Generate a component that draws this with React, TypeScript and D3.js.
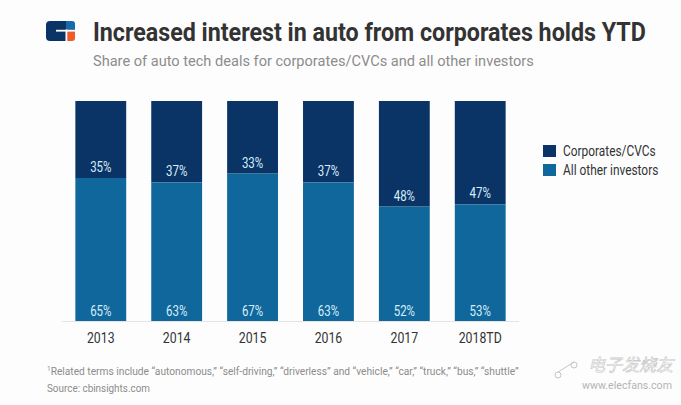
import React, { useLayoutEffect, useRef, useState } from "react";
import * as d3 from "d3";

const years = ["2013", "2014", "2015", "2016", "2017", "2018TD"];
const corporates = [35, 37, 33, 37, 48, 47];
const others = [65, 63, 67, 63, 52, 53];
const seriesNames = ["Corporates/CVCs", "All other investors"];

const W = 681;
const H = 405;
const DARK = "#0b3466";
const MID = "#0f679c";
const LABEL = "#d8eefa";
const FONT = "Roboto, 'Noto Sans', sans-serif";

function CText({ x, y, sx = 0.82, anchor = "middle", size, fill, weight = 400, children }: any) {
  return (
    <text
      transform={`translate(${x},${y}) scale(${sx},1)`}
      textAnchor={anchor}
      fontSize={size}
      fill={fill}
      fontWeight={weight}
      fontFamily={FONT}
    >
      {children}
    </text>
  );
}

// text squeezed horizontally to a target width
function FitText({ x, y, width, size, fill, weight = 400, children }: any) {
  const ref = useRef<SVGTextElement>(null);
  const [sx, setSx] = useState(0.8);
  useLayoutEffect(() => {
    if (ref.current) {
      const w = ref.current.getComputedTextLength();
      if (w > 0) setSx(width / w);
    }
  }, [width]);
  return (
    <g transform={`translate(${x},${y}) scale(${sx},1)`}>
      <text ref={ref} x={0} y={0} fontSize={size} fill={fill} fontWeight={weight} fontFamily={FONT}>
        {children}
      </text>
    </g>
  );
}

export default function App() {
  const x = d3.scaleBand().domain(years).range([62, 519]).paddingInner(0.33).paddingOuter(0.176);
  const y = d3.scaleLinear().domain([0, 100]).range([321, 101]);
  const bw = x.bandwidth();

  return (
    <svg width={W} height={H} style={{ position: "absolute", left: 0, top: 0, background: "#fff" }}>
      <rect width={W} height={H} fill="#fdfdfd" />
      {/* logo */}
      <g>
        <path d="M50,21 H66 V41 H50 a4,4 0 0 1 -4,-4 V25 a4,4 0 0 1 4,-4 z" fill={DARK} />
        <path d="M66,21 H72 a3,3 0 0 1 3,3 V31 H66 z" fill="#1769aa" />
        <path d="M66,31 H75 V38 a3,3 0 0 1 -3,3 H66 z" fill="#f05a28" />
        <rect x={65.5} y={29.5} width={1.8} height={11.5} fill="#fff" />
        <rect x={56} y={29.8} width={19} height={1.8} fill="#fff" />
      </g>
      <FitText x={93} y={41} width={553} size={25} weight={700} fill="#333">
        Increased interest in auto from corporates holds YTD
      </FitText>
      <FitText x={93} y={66} width={441} size={15} fill="#8c8c8c">
        Share of auto tech deals for corporates/CVCs and all other investors
      </FitText>

      {/* bars */}
      {years.map((yr, i) => {
        const x0 = x(yr)!;
        const top = y(100);
        const split = y(others[i]);
        return (
          <g key={yr}>
            <rect x={x0} y={top} width={bw} height={split - top} fill={DARK} />
            <rect x={x0} y={split} width={bw} height={y(0) - split} fill={MID} />
            <CText x={x0 + bw / 2} y={split - 6} size={14} fill={LABEL}>
              {corporates[i]}%
            </CText>
            <CText x={x0 + bw / 2} y={y(0) - 5} size={14} fill={LABEL}>
              {others[i]}%
            </CText>
            <CText x={x0 + bw / 2} y={343} size={15} fill="#333">
              {yr}
            </CText>
          </g>
        );
      })}
      <line x1={62} x2={519} y1={321.5} y2={321.5} stroke="#e4e4e4" strokeWidth={1} />

      {/* legend */}
      {seriesNames.map((s, i) => (
        <g key={s}>
          <rect x={543} y={145 + i * 19} width={13} height={12} fill={i === 0 ? DARK : MID} />
          <CText x={563} y={156 + i * 19} size={14} fill="#333" anchor="start" sx={0.85}>
            {s}
          </CText>
        </g>
      ))}

      {/* footnote */}
      <FitText x={47} y={375} width={472} size={11} fill="#8c8c8c">
        <tspan fontSize={7} dy={-4}>1</tspan>
        <tspan dy={4}>Related terms include “autonomous,” “self-driving,” “driverless” and “vehicle,” “car,” “truck,” “bus,” “shuttle”</tspan>
      </FitText>
      <FitText x={47} y={392} width={103} size={11} fill="#8c8c8c">
        Source: cbinsights.com
      </FitText>

      {/* watermark */}
      <g opacity={0.55}>
        <circle cx={558} cy={375} r={3} fill="none" stroke="#999" strokeWidth={1} />
        <circle cx={574} cy={365} r={3} fill="none" stroke="#999" strokeWidth={1} />
        <path d="M558,372 L574,362" stroke="#999" strokeWidth={1} fill="none" />
        <text x={588} y={371} fontSize={17} fontStyle="italic" fill="#fff" stroke="#999" strokeWidth={0.6} fontFamily="'Noto Sans CJK SC', sans-serif">
          电子发烧友
        </text>
        <FitText x={582} y={389} width={90} size={11} fill="#777">
          www.elecfans.com
        </FitText>
      </g>
    </svg>
  );
}
